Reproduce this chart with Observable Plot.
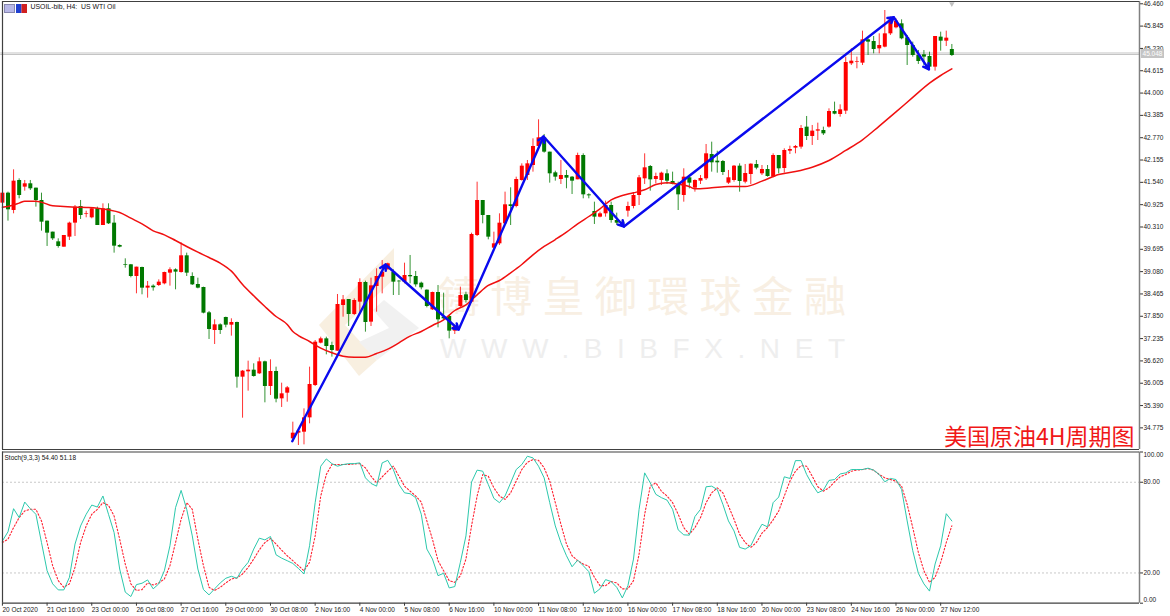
<!DOCTYPE html>
<html><head><meta charset="utf-8">
<script src="https://cdn.jsdelivr.net/npm/d3@7"></script>
<script src="https://cdn.jsdelivr.net/npm/@observablehq/plot@0.6"></script>
<style>
html,body{margin:0;padding:0;background:#fff}
#chart{position:relative;width:1170px;height:616px;overflow:hidden;background:#fff}
#chart>*{position:absolute;left:0}
svg{background:transparent!important}
</style></head><body><div id="chart"></div>
<script>
const FONT = "'Liberation Sans',Arial,sans-serif";
const highs = [41.242,41.27,41.885,41.637,41.591,41.591,41.38,41.242,40.471,40.168,
39.984,40.076,40.443,40.902,41.04,40.746,40.838,40.857,40.948,40.948,
40.627,39.819,39.433,39.277,39.203,39.203,38.808,38.716,38.854,39.066,
39.185,39.157,39.874,39.589,39.047,38.9,38.652,37.982,37.752,37.642,
37.826,37.78,37.688,36.356,36.613,36.54,36.705,36.613,36.65,36.448,
36.007,35.915,34.932,34.702,35.299,36.448,37.182,37.274,37.274,37.136,
38.45,38.422,38.312,38.33,38.882,38.817,38.9,39.157,39.387,39.313,
39.13,38.836,39.313,39.525,39.084,38.79,38.578,38.514,38.698,38.487,
37.871,37.596,38.652,38.514,40.14,41.545,41.04,40.627,40.167,40.673,
41.27,41.389,41.683,42.05,42.142,42.739,43.263,42.859,42.372,41.848,
42.142,41.867,41.701,42.344,42.326,41.224,40.994,40.719,41.022,40.994,
40.691,40.489,40.994,41.242,41.729,42.326,42.004,41.793,41.821,41.885,
41.821,41.545,41.913,41.683,41.609,41.729,42.583,42.647,42.399,42.142,
41.867,42.004,42.05,42.032,42.05,42.142,42.004,42.004,42.326,42.28,
42.464,42.537,42.556,43.107,43.355,43.107,43.171,43.061,43.566,43.75,
43.676,44.99,45.219,44.99,45.706,45.495,45.559,45.632,46.275,46.092,
46.046,46.018,45.587,45.403,45.173,45.173,45.127,45.559,45.678,45.706,45.339];
const bodyTops = [41.242,41.242,41.573,41.591,41.5,41.5,41.38,41.04,40.471,40.168,
39.901,40.076,40.416,40.857,40.875,40.673,40.811,40.811,40.811,40.811,
40.416,39.8,39.268,39.268,39.203,39.194,38.68,38.68,38.79,39.056,
39.13,39.13,39.516,39.516,38.946,38.726,38.643,37.945,37.614,37.614,
37.816,37.679,37.679,36.338,36.365,36.365,36.595,36.595,36.328,36.328,
35.713,35.878,34.629,34.684,35.051,35.97,37.136,37.228,37.228,37.045,
38.174,38.303,38.312,38.285,38.781,38.781,38.689,38.946,39.065,39.295,
39.065,38.817,38.973,38.973,38.946,38.762,38.569,38.505,38.505,37.825,
37.844,37.568,38.422,38.441,40.103,41.04,41.04,40.627,39.846,40.415,
40.921,40.921,41.619,41.986,42.05,42.528,42.767,42.767,42.372,41.802,
41.729,41.729,41.683,42.28,42.28,41.196,40.737,40.673,40.902,40.902,
40.489,40.443,40.875,41.178,41.665,41.94,41.977,41.701,41.793,41.775,
41.564,41.472,41.683,41.665,41.591,41.646,42.326,42.308,42.124,42.115,
41.665,41.986,41.986,41.784,42.041,42.032,41.894,41.894,42.28,42.28,
42.418,42.445,42.528,43.024,43.061,42.951,42.987,42.969,43.492,43.492,
43.538,44.843,44.879,44.87,45.467,45.467,45.421,45.311,45.632,46.018,
45.982,45.908,45.522,45.311,45.035,45.054,45.008,45.559,45.541,45.513,45.201];
const bodyBottoms = [40.967,40.783,40.765,41.178,41.408,41.362,41.04,40.443,40.14,39.984,
39.773,39.754,40.03,40.416,40.627,40.655,40.563,40.351,40.351,40.397,
39.782,39.754,39.249,38.946,38.946,38.625,38.625,38.634,38.698,38.744,
39.038,39.066,39.056,39.038,38.716,38.625,37.936,37.486,37.458,37.458,
37.605,37.605,36.172,36.172,36.319,36.191,36.264,35.915,35.915,35.566,
35.575,35.731,34.473,34.629,34.656,35.051,35.942,37.109,37.017,36.907,
36.888,38.147,37.899,37.899,38.239,37.678,37.688,38.67,38.927,39.13,
38.79,38.799,38.79,38.937,38.716,38.634,38.119,38.027,37.752,37.779,
37.44,37.44,38.119,38.285,38.239,40.076,40.627,40.03,39.727,39.846,
40.397,40.875,40.875,41.591,41.729,42.004,42.528,42.372,41.775,41.683,
41.619,41.655,41.573,41.61,41.196,41.169,40.581,40.581,40.673,40.489,
40.415,40.379,40.746,40.875,41.178,41.637,41.609,41.619,41.591,41.573,
41.481,41.196,41.178,41.518,41.38,41.573,41.637,42.078,42.078,41.812,
41.518,41.591,41.564,41.545,41.756,41.931,41.775,41.701,41.683,41.913,
41.922,42.399,42.482,42.51,42.804,42.804,42.951,42.877,43.061,43.419,
43.41,43.502,44.806,44.852,44.824,45.403,45.201,45.219,45.265,45.632,
45.798,45.495,45.311,45.035,44.87,44.99,44.714,44.714,45.43,45.43,45.035];
const lows = [40.967,40.471,40.673,41.086,41.297,41.316,40.857,40.195,39.773,39.938,
39.727,39.754,39.938,40.048,40.517,40.563,40.535,40.351,40.351,40.379,
39.589,39.736,39.176,38.909,38.469,38.441,38.349,38.542,38.671,38.716,
38.68,38.579,39.038,38.946,38.698,38.606,37.917,37.21,37.072,37.348,
37.532,37.302,35.869,35.042,35.787,36.172,36.246,35.465,35.667,35.465,
35.337,35.483,34.381,34.289,34.307,34.886,35.915,37.09,36.787,36.723,
36.888,37.825,37.568,37.871,37.963,37.412,37.568,37.963,38.468,39.13,
38.422,38.422,38.744,38.744,38.652,38.578,38.082,38.009,37.531,37.733,
37.228,37.348,38.082,38.211,38.211,40.048,40.397,39.956,39.708,39.8,
40.351,40.351,40.838,41.573,41.591,41.821,42.51,42.344,41.518,41.573,
41.481,41.362,41.205,41.61,41.086,41.086,40.379,40.562,40.581,40.415,
40.351,40.305,40.581,40.81,40.902,41.481,41.297,41.499,41.453,41.481,
41.472,40.764,40.994,41.361,41.27,41.481,41.591,41.821,41.793,41.729,
41.481,41.545,41.27,41.499,41.481,41.885,41.729,41.683,41.665,41.775,
41.793,42.308,42.326,42.454,42.693,42.556,42.693,42.831,43.033,43.401,
43.336,43.41,44.76,44.668,44.76,45.035,45.081,45.081,45.247,45.587,
45.77,45.467,44.76,44.99,44.788,44.76,44.641,44.604,45.155,45.283,45.008];
const directions = "rgrgrggggggrrrgrrgrgggggrgrgrrrgrgggggrggrgrrgrgrgrrrrrrrrggrrgrrgrrrrggrggggrgggrrgrrggrrrgrrrrrgggrggrgggrrgggrrrrgrrgggrgrrrgggrrgrrgrgrgrrrrgrrgrgrrrrrggrrrrggggggrgrg";
const maBars = [0,1,3,4,6,7,9,11,13,15,17,19,21,23,25,27,29,31,33,35,37,39,41,43,45,47,49,51,52,53,55,57,59,61,63,65,67,69,71,73,75,77,79,81,83,85,87,89,91,93,95,97,99,101,103,105,107,109,111,113,115,117,119,121,123,124,127,130,133,136,139,142,145,148,151,154,157,160,163,166,168,170];
const maValues = [40.857,40.875,40.967,41.022,41.022,40.994,40.893,40.875,40.857,40.847,40.829,40.783,40.71,40.553,40.397,40.204,40.094,39.938,39.773,39.617,39.47,39.314,39.093,38.726,38.413,38.119,37.844,37.623,37.43,37.32,37.155,36.971,36.843,36.751,36.723,36.723,36.824,36.944,37.118,37.302,37.43,37.596,37.752,38.009,38.165,38.441,38.698,38.836,39.047,39.277,39.543,39.773,39.965,40.167,40.397,40.599,40.81,41.058,41.178,41.251,41.334,41.481,41.527,41.49,41.426,41.361,41.389,41.426,41.426,41.573,41.756,41.839,41.958,42.142,42.418,42.712,43.09,43.48,43.88,44.273,44.484,44.668];
const trendBars = [51.9,68.6,81.7,96.9,111.3,159.6,165.9];
const trendPrices = [34.407,39.276,37.485,42.803,40.323,46.091,44.65];
const priceTicks = [34.775,35.39,36.005,36.62,37.235,37.85,38.465,39.08,39.695,40.31,40.925,41.54,42.155,42.77,43.385,44,44.615,45.23,45.845,46.46];
const stochMain = [41.2,47.2,62.5,56.6,66.9,62.5,58.8,40.1,21.5,12.8,
8.8,8.8,17.1,39.1,51.1,58.8,64.9,63.6,70.9,58.8,
46.7,22.6,7.3,4.4,12.3,13.2,15.4,9.5,12.8,21.5,
38.0,63.2,74.6,62.1,44.5,22.6,9.0,5.5,9.5,13.4,
16.5,17.8,16.5,22.6,27.0,35.8,43.0,41.9,44.1,32.0,
29.8,28.1,26.3,23.0,19.3,38.0,66.5,90.6,95.4,92.3,
90.6,91.7,92.3,92.3,92.8,82.9,79.2,77.4,92.8,94.5,
88.4,78.5,73.0,72.4,69.8,58.8,35.8,29.2,18.2,19.8,10.1,11.0,
27.0,44.5,80.1,88.0,87.3,78.5,69.3,66.5,70.9,79.6,
88.4,91.7,97.2,96.1,90.6,82.9,66.5,51.1,40.1,31.4,
24.1,28.5,24.8,20.9,6.6,9.5,15.6,14.3,10.5,3.5,
11.6,29.2,62.1,86.2,79.6,72.0,69.8,68.2,62.1,48.5,
45.2,45.0,57.3,62.1,77.0,77.4,75.2,65.4,54.4,47.8,
36.9,35.8,38.0,45.6,52.2,50.5,66.5,70.2,83.6,82.5,
94.3,94.3,85.1,78.5,73.0,74.8,81.2,81.8,85.5,86.2,88.4,
88.4,88.4,89.3,88.0,85.1,80.3,82.5,81.8,75.2,54.4,
34.7,19.8,12.8,8.0,25.9,38.0,59.2,54.4];
const stochSignal = [40.1,42.3,50.0,56.6,61.0,62.1,62.1,54.4,40.1,24.8,
14.9,10.5,12.8,23.7,40.1,51.1,58.8,62.1,66.5,64.7,
57.7,42.3,25.9,12.8,8.4,9.0,13.4,12.1,13.4,16.0,
24.8,40.1,55.5,66.5,62.1,42.3,24.8,10.5,8.4,10.5,
13.4,16.0,16.7,19.3,23.7,29.2,35.3,40.1,42.8,39.1,
35.1,31.4,28.1,24.8,21.5,27.0,44.5,70.9,85.1,91.7,
91.7,91.7,91.7,92.1,92.3,89.5,84.0,79.6,83.6,87.3,
90.6,84.0,77.4,74.1,70.9,66.9,54.4,42.3,28.1,21.5,14.9,13.8,
18.2,29.2,51.1,70.9,85.1,84.0,76.3,70.9,68.7,73.0,
80.7,88.4,93.2,95.0,94.5,89.5,80.7,66.5,52.2,39.1,
31.4,28.1,25.9,24.4,17.1,11.6,11.6,14.3,13.4,9.5,
9.5,14.9,32.5,58.8,77.4,79.6,74.1,70.9,66.5,58.8,
50.0,45.6,50.0,56.6,66.5,73.0,76.3,73.0,64.3,55.5,
45.6,40.1,36.9,40.1,46.3,50.0,55.1,61.0,70.9,80.7,
87.3,91.0,90.6,84.0,77.0,74.1,76.3,80.3,83.6,85.1,
87.3,88.0,88.4,89.1,88.0,85.1,82.9,81.8,80.7,77.4,
65.4,50.0,33.6,21.5,13.8,17.1,27.0,40.1,51.18];
const stochTicks = [0,20,80,100];
const timeLabels = ["20 Oct 2020","21 Oct 16:00","23 Oct 00:00","26 Oct 08:00","27 Oct 16:00","29 Oct 00:00","30 Oct 08:00","2 Nov 16:00","4 Nov 00:00","5 Nov 08:00","6 Nov 16:00","10 Nov 00:00","11 Nov 08:00","12 Nov 16:00","16 Nov 00:00","17 Nov 08:00","18 Nov 16:00","20 Nov 00:00","23 Nov 08:00","24 Nov 16:00","26 Nov 00:00","27 Nov 12:00"];
const titleText = "USOIL-bib, H4:  US WTI Oil";
const stochTitle = "Stoch(9,3,3) 54.40 51.18";
const chartNote = "美国原油4H周期图";
const lastPrice = 45.048;

const bars = highs.map((h,i)=>({i,h,l:lows[i],t:bodyTops[i],b:bodyBottoms[i],d:directions[i]}));
const trend = trendBars.slice(1).map((v,k)=>({x1:trendBars[k],y1:trendPrices[k],x2:v,y2:trendPrices[k+1]}));
const ma = maBars.map((i,k)=>({i,v:maValues[k]}));
const barColor = {r:"#ff0000",g:"#007800"};
const xDomain = [0.018,203.6];
const chart = document.getElementById("chart");
const textStyle = {fontFamily:FONT,fontSize:"6.5px",overflow:"visible"};

// watermark and toolbar icons sit behind the plots
chart.insertAdjacentHTML("beforeend",`<svg width="1170" height="616" style="top:0">
<polygon points="319,325 394,248 394,279 345,325 377,360 359,376" fill="#f8efe0"/>
<polygon points="384,300 419,328 377,360 359,342 389,328 373,310" fill="#f1f1f1"/>
<text x="438" y="312" textLength="408" lengthAdjust="spacing" font-family="'Noto Sans CJK TC'" font-size="42" fill="#f8efe3">鑄博皇御環球金融</text>
<text x="440" y="358" textLength="405" lengthAdjust="spacing" font-family="${FONT}" font-size="28" fill="#eeeeee">WWW.BIBFX.NET</text>
<rect x="4.5" y="4.5" width="10" height="8" fill="#b8b8e8" stroke="#8888b0"/>
<rect x="16" y="4" width="5.5" height="9" fill="#2040d0"/><rect x="21.5" y="4" width="5.5" height="9" fill="#d02020"/>
</svg>`);

const pricePlot = Plot.plot({
  width:1170,height:450,marginLeft:2,marginRight:31,marginTop:1,marginBottom:1,
  style:textStyle,
  x:{domain:xDomain,axis:null},
  y:{domain:[34.179,46.523]},
  marks:[
    Plot.ruleY([45.104,45.063],{x1:-0.3,x2:xDomain[1],stroke:"#c4c4c4",strokeWidth:1,clip:false}),
    Plot.ruleX(bars,{x:"i",y1:"l",y2:"h",stroke:d=>barColor[d.d],strokeWidth:1,strokeOpacity:0.8}),
    Plot.ruleX(bars,{x:"i",y1:"b",y2:"t",stroke:d=>barColor[d.d],strokeWidth:4}),
    Plot.line(ma,{x:"i",y:"v",stroke:"#f01010",strokeWidth:1.5,curve:"monotone-x"}),
    Plot.arrow(trend,{x1:"x1",y1:"y1",x2:"x2",y2:"y2",stroke:"#0a0aee",strokeWidth:2.4,headLength:4,bend:0}),
    Plot.axisY({anchor:"right",ticks:priceTicks,tickSize:3,tickPadding:1,tickFormat:d=>d.toFixed(3),label:null,stroke:"#333",fill:"#222"}),
    Plot.ruleX([xDomain[1]],{stroke:"#808080",strokeWidth:1.5}),
    Plot.ruleX([xDomain[0]],{stroke:"#404040",strokeWidth:1.2}),
    Plot.ruleY([46.523],{stroke:"#404040",strokeWidth:1.2}),
    Plot.ruleY([34.179],{stroke:"#404040",strokeWidth:1.2}),
    Plot.dot([170],{x:d=>d,y:()=>46.46,symbol:"triangle",r:2,fill:"#c0c0c0",rotate:180}),
    Plot.text([titleText],{frameAnchor:"top-left",text:d=>d,dx:28,dy:3,fontSize:6.9,fill:"#111"}),
    Plot.text([chartNote],{frameAnchor:"bottom-right",text:d=>d,dx:-5,dy:-5,fontSize:23,fill:"#f01818",fontFamily:"'Noto Sans CJK SC'"})
  ]
});
pricePlot.style.top="0px";
chart.appendChild(pricePlot);

const stochPlot = Plot.plot({
  width:1170,height:166,marginLeft:2,marginRight:31,marginTop:1.5,marginBottom:13.3,
  style:textStyle,
  x:{domain:xDomain,axis:null},
  y:{domain:[0,100]},
  marks:[
    Plot.ruleY([20,80],{stroke:"#c8c8c8",strokeDasharray:"2,2",strokeWidth:1}),
    Plot.line(stochSignal,{x:(d,i)=>i,y:d=>d,stroke:"#ff2030",strokeWidth:1.1,strokeDasharray:"1.5,2"}),
    Plot.line(stochMain,{x:(d,i)=>i,y:d=>d,stroke:"#2cc8ac",strokeWidth:1}),
    Plot.axisY({anchor:"right",ticks:stochTicks,tickSize:3,tickPadding:1,tickFormat:d=>(d===20||d===80)?d.toFixed(2):"",label:null,stroke:"#333",fill:"#222"}),
    Plot.text([100],{x:()=>xDomain[1],y:d=>d,text:d=>d.toFixed(2),dx:4,dy:3,textAnchor:"start",fill:"#222",clip:false}),
    Plot.text([0],{x:()=>xDomain[1],y:d=>d,text:d=>d.toFixed(2),dx:4,dy:-3,textAnchor:"start",fill:"#222",clip:false}),
    Plot.axisX({anchor:"bottom",ticks:timeLabels.map((d,k)=>k*8),tickSize:3,tickPadding:1,tickFormat:d=>timeLabels[d/8],textAnchor:"start",label:null,stroke:"#333",fill:"#222"}),
    Plot.ruleX([xDomain[1]],{stroke:"#808080",strokeWidth:1.5}),
    Plot.ruleX([xDomain[0]],{stroke:"#404040",strokeWidth:1.2}),
    Plot.ruleY([100],{stroke:"#404040",strokeWidth:1.2}),
    Plot.ruleY([0],{stroke:"#404040",strokeWidth:1.2}),
    Plot.text([stochTitle],{frameAnchor:"top-left",text:d=>d,dx:2,dy:3,fontSize:6.5,fill:"#111"})
  ]
});
stochPlot.style.top="450px";
chart.appendChild(stochPlot);

chart.insertAdjacentHTML("beforeend",`<div style="left:1141px;top:49px;width:23px;height:9px;background:#c4c4c4;color:#fff;font:6.5px/9px ${FONT};text-align:center">${lastPrice.toFixed(3)}</div>`);
</script></body></html>
